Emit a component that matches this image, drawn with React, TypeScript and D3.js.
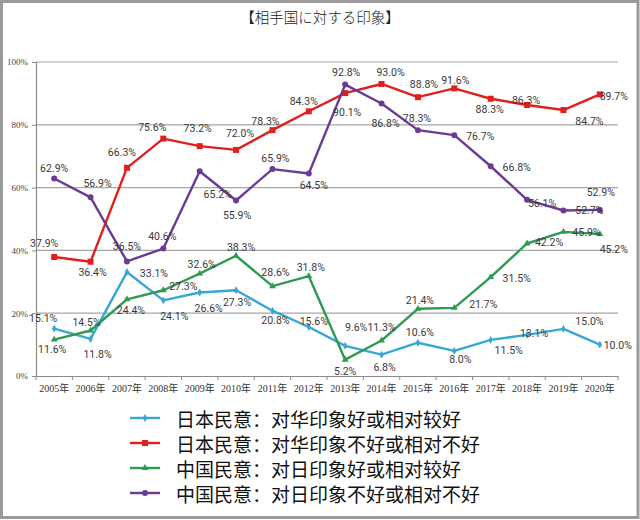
import React, { useEffect, useRef } from "react";
import * as d3 from "d3";

const years = ["2005年","2006年","2007年","2008年","2009年","2010年","2011年","2012年","2013年","2014年","2015年","2016年","2017年","2018年","2019年","2020年"];
const yTicks = [0, 20, 40, 60, 80, 100];

const jpGood = [15.1, 11.8, 33.1, 24.1, 26.6, 27.3, 20.8, 15.6, 9.6, 6.8, 10.6, 8.0, 11.5, 13.1, 15.0, 10.0];
const jpBad = [37.9, 36.4, 66.3, 75.6, 73.2, 72.0, 78.3, 84.3, 90.1, 93.0, 88.8, 91.6, 88.3, 86.3, 84.7, 89.7];
const cnGood = [11.6, 14.5, 24.4, 27.3, 32.6, 38.3, 28.6, 31.8, 5.2, 11.3, 21.4, 21.7, 31.5, 42.2, 45.9, 45.2];
const cnBad = [62.9, 56.9, 36.5, 40.6, 65.2, 55.9, 65.9, 64.5, 92.8, 86.8, 78.3, 76.7, 66.8, 56.1, 52.7, 52.9];

const seriesNames = [
  "日本民意：对华印象好或相对较好",
  "日本民意：对华印象不好或相对不好",
  "中国民意：对日印象好或相对较好",
  "中国民意：对日印象不好或相对不好",
];

// label offsets (layout only)
const offJpGood: [number, number][] = [[-11,-10],[7,16],[27,1],[11,16],[9,16],[1,12],[3,10],[5,-6],[11,-18],[3,13],[2,-10],[6,9],[18,11],[7,-1],[26,-7],[18,1]];
const offJpBad: [number, number][] = [[-10,-13],[2,11],[-5,-15],[-11,-11],[-2,-18],[4,-16],[-7,-9],[-5,-10],[2,19],[9,-11],[6,-13],[1,-8],[-1,11],[-1,-5],[26,11],[14,2]];
const offCnGood: [number, number][] = [[-2,10],[-4,-8],[4,11],[20,-4],[2,-9],[5,-8],[3,-14],[2,-9],[0,12],[0,-13],[2,-8],[29,-3],[26,1],[22,-1],[23,1],[14,15]];
const offCnBad: [number, number][] = [[0,-10],[7,-14],[0,-15],[-1,-12],[18,23],[1,15],[3,-11],[5,12],[1,-12],[4,20],[-1,-12],[26,1],[26,1],[15,4],[26,0],[1,-17]];

export default function App() {
  const ref = useRef<SVGSVGElement>(null);

  useEffect(() => {
    const svg = d3.select(ref.current);
    svg.selectAll("*").remove();

    const W = 640, H = 520;
    const left = 36, right = 618, top = 62, bottom = 376;

    svg.append("rect").attr("x", 0).attr("y", 0).attr("width", W).attr("height", H).attr("fill", "#fff");
    svg.append("rect").attr("x", 1.5).attr("y", 1.5).attr("width", W - 3.5).attr("height", H - 4)
      .attr("fill", "none").attr("stroke", "#9a9a9a").attr("stroke-width", 3);

    svg.append("text").attr("x", 320).attr("y", 23).attr("text-anchor", "middle")
      .attr("font-family", "'Noto Sans CJK JP'").attr("font-size", 14.5).attr("font-weight", 300).attr("fill", "#222")
      .text("【相手国に対する印象】");

    const x = d3.scaleBand<string>().domain(years).range([left, right]);
    const y = d3.scaleLinear().domain([0, 100]).range([bottom, top]);

    const g = svg.append("g");
    // grid
    g.selectAll("line.grid").data(yTicks.filter(t => t > 0)).join("line")
      .attr("x1", left).attr("x2", right).attr("y1", d => y(d)).attr("y2", d => y(d))
      .attr("stroke", "#a6a6a6").attr("stroke-width", 1.2);

    // y axis
    const yAxis = d3.axisLeft(y).tickValues(yTicks).tickFormat(d => `${d}%`).tickSize(4);
    const ya = g.append("g").attr("transform", `translate(${left},0)`).call(yAxis);
    ya.select(".domain").attr("stroke", "#8a8a8a").attr("stroke-width", 1.2);
    ya.selectAll(".tick line").attr("stroke", "#8a8a8a");
    ya.selectAll(".tick text").attr("font-family", "'Liberation Serif'").attr("font-size", 9).attr("fill", "#444").attr("dx", -1);

    // x axis
    const xAxis = d3.axisBottom(x).tickSize(0).tickPadding(9);
    const xa = g.append("g").attr("transform", `translate(0,${bottom})`).call(xAxis);
    xa.select(".domain").attr("stroke", "#8a8a8a").attr("stroke-width", 1.2);
    xa.selectAll(".tick text").attr("font-family", "'Liberation Serif', 'Noto Sans CJK SC'").attr("font-size", 10).attr("fill", "#333");
    g.selectAll("line.xt").data(years.concat(["end"])).join("line")
      .attr("x1", (d, i) => left + i * x.bandwidth()).attr("x2", (d, i) => left + i * x.bandwidth())
      .attr("y1", bottom).attr("y2", bottom + 4).attr("stroke", "#8a8a8a");

    const series = [
      { vals: jpGood, color: "#37a7d3", marker: d3.symbolDiamond, msize: 18, off: offJpGood },
      { vals: jpBad, color: "#e0201f", marker: d3.symbolSquare, msize: 36, off: offJpBad },
      { vals: cnGood, color: "#2f9a52", marker: d3.symbolTriangle, msize: 20, off: offCnGood },
      { vals: cnBad, color: "#6a3b96", marker: d3.symbolCircle, msize: 28, off: offCnBad },
    ];

    const cx = (i: number) => (x(years[i]) as number) + x.bandwidth() / 2;
    const line = d3.line<number>().x((d, i) => cx(i)).y(d => y(d));

    series.forEach(s => {
      g.append("path").attr("d", line(s.vals)).attr("fill", "none").attr("stroke", s.color)
        .attr("stroke-width", 2.4).attr("stroke-linejoin", "round");
      g.selectAll(null).data(s.vals).join("path")
        .attr("d", d3.symbol().type(s.marker).size(s.msize)())
        .attr("transform", (d, i) => `translate(${cx(i)},${y(d)})`)
        .attr("fill", s.color);
    });

    series.forEach(s => {
      g.selectAll(null).data(s.vals).join("text")
        .attr("x", (d, i) => cx(i) + s.off[i][0])
        .attr("y", (d, i) => y(d) + s.off[i][1])
        .attr("text-anchor", "middle").attr("dominant-baseline", "central")
        .attr("font-family", "Roboto").attr("font-size", 10.5).attr("fill", "#3a3a3a")
        .text(d => `${d.toFixed(1)}%`);
    });

    // legend
    const lg = svg.append("g");
    series.forEach((s, i) => {
      const ly = 418 + i * 25;
      lg.append("line").attr("x1", 130).attr("x2", 160).attr("y1", ly).attr("y2", ly)
        .attr("stroke", s.color).attr("stroke-width", 2.4);
      lg.append("path").attr("d", d3.symbol().type(s.marker).size(s.msize)())
        .attr("transform", `translate(145,${ly})`).attr("fill", s.color);
      lg.append("text").attr("x", 176).attr("y", ly).attr("dominant-baseline", "central")
        .attr("font-family", "'Noto Sans CJK SC'").attr("font-size", 19).attr("fill", "#111")
        .text(seriesNames[i]);
    });
  }, []);

  return (
    <svg ref={ref} width={640} height={520} style={{ position: "absolute", left: 0, top: 0 }} />
  );
}
